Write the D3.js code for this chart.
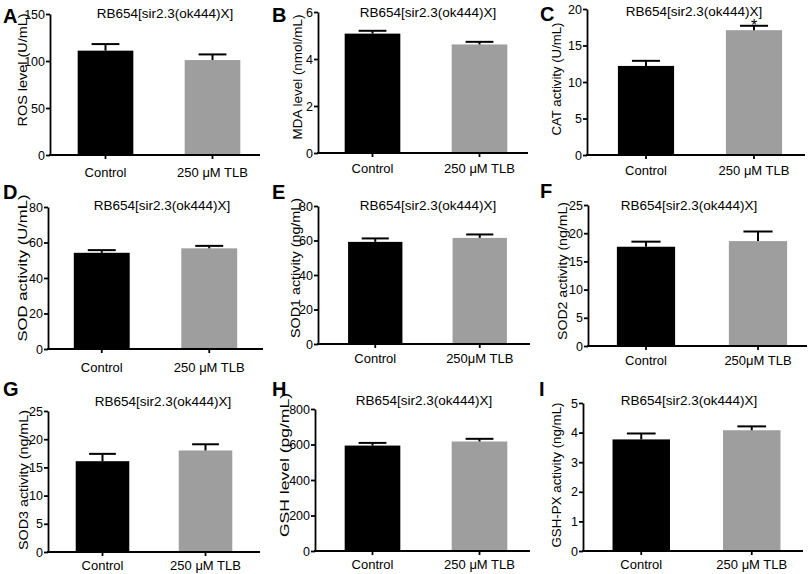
<!DOCTYPE html>
<html>
<head>
<meta charset="utf-8">
<script src="https://cdn.jsdelivr.net/npm/d3@7"></script>
<style>
  body { margin: 0; background: #fff; }
  svg { display: block; font-family: "Liberation Sans", Arial, sans-serif; }
</style>
</head>
<body>
<div id="chart"></div>
<script>
//DATA
const panelLetters = ["A", "B", "C", "D", "E", "F", "G", "H", "I"];
const title = "RB654[sir2.3(ok444)X]";
const xLabels = [
  ["Control", "250 μM TLB"], ["Control", "250 μM TLB"], ["Control", "250 μM TLB"],
  ["Control", "250 μM TLB"], ["Control", "250μM TLB"], ["Control", "250μM TLB"],
  ["Control", "250 μM TLB"], ["Control", "250 μM TLB"], ["Control", "250 μM TLB"]
];
const yTitles = [
  "ROS level (U/mL)", "MDA level (nmol/mL)", "CAT activity (U/mL)",
  "SOD activity (U/mL)", "SOD1 activity (ng/mL)", "SOD2 activity (ng/mL)",
  "SOD3 activity (ng/mL)", "GSH level (pg/mL)", "GSH-PX activity (ng/mL)"
];
const yMax = [150, 6, 20, 80, 80, 25, 25, 800, 5];
const yTickStep = [50, 2, 5, 20, 20, 5, 5, 200, 1];
const controlMean = [111, 5.08, 12.2, 54.2, 59.2, 17.6, 16.1, 594, 3.77];
const controlErr = [7, 0.12, 0.7, 1.5, 2, 0.9, 1.3, 15, 0.2];
const tlbMean = [101, 4.62, 17.1, 56.7, 61.5, 18.6, 18.0, 617, 4.08];
const tlbErr = [6, 0.11, 0.6, 1.4, 2, 1.7, 1.1, 15, 0.13];
const significant = [[false, false], [false, false], [false, true],
  [false, false], [false, false], [false, false],
  [false, false], [false, false], [false, false]];

//LAYOUT (pixel positions of each panel)
// yl = y title baseline x, yc = y title centre, yw = y title length, xd = x label offset below axis
const layout = [
  {x0: 50, x1: 260, yTop: 14, yZero: 155, r0: 52, r1: 266, tx: 165, ty: 18, lx: 3, ly: 23, yl: 27, yc: 70, yw: 113, xd: 21.5},
  {x0: 318, x1: 528, yTop: 12, yZero: 153, r0: 319, r1: 533, tx: 428, ty: 17, lx: 272, ly: 22, yl: 302, yc: 77, yw: 125, xd: 20},
  {x0: 587, x1: 805, yTop: 9, yZero: 155, r0: 592, r1: 808, tx: 694, ty: 16, lx: 540, ly: 21, yl: 561, yc: 79, yw: 113, xd: 20},
  {x0: 48, x1: 263, yTop: 207, yZero: 349, r0: 48, r1: 263, tx: 162, ty: 210, lx: 3, ly: 199, yl: 27, yc: 268, yw: 147, xd: 22.5},
  {x0: 318, x1: 530, yTop: 206, yZero: 344, r0: 323, r1: 532, tx: 428, ty: 210, lx: 272, ly: 199, yl: 300, yc: 268, yw: 140, xd: 19},
  {x0: 588, x1: 807, yTop: 205, yZero: 346, r0: 590, r1: 814, tx: 689, ty: 210, lx: 540, ly: 198, yl: 567, yc: 271, yw: 138, xd: 19},
  {x0: 48, x1: 260, yTop: 411, yZero: 552, r0: 51, r1: 257, tx: 163, ty: 406, lx: 3, ly: 396, yl: 28, yc: 480, yw: 140, xd: 17.5},
  {x0: 315, x1: 530, yTop: 409, yZero: 551, r0: 319, r1: 533, tx: 424, ty: 405, lx: 272, ly: 396, yl: 289, yc: 465, yw: 144, xd: 17.5},
  {x0: 583, x1: 803, yTop: 403, yZero: 551, r0: 586, r1: 807, tx: 689, ty: 405, lx: 539, ly: 396, yl: 561, yc: 475, yw: 145, xd: 18}
];

const W = 809, H = 574;
const barColors = ["#000000", "#9e9e9e"];

//SVG
const svg = d3.select("#chart")
  .append("svg")
  .attr("width", W)
  .attr("height", H);

panelLetters.forEach((letter, i) => {
  const L = layout[i];
  const g = svg.append("g");

  const rows = [
    {cat: xLabels[i][0], mean: controlMean[i], err: controlErr[i], sig: significant[i][0]},
    {cat: xLabels[i][1], mean: tlbMean[i], err: tlbErr[i], sig: significant[i][1]}
  ];

  //SCALES
  const x = d3.scaleBand()
    .domain(rows.map(d => d.cat))
    .range([L.r0, L.r1])
    .paddingInner(0.48)
    .paddingOuter(0.24);

  const y = d3.scaleLinear()
    .domain([0, yMax[i]])
    .range([L.yZero, L.yTop]);

  const cx = d => x(d.cat) + x.bandwidth() / 2;

  //BARS
  g.selectAll("rect.bar")
    .data(rows)
    .join("rect")
    .attr("class", "bar")
    .attr("x", d => x(d.cat))
    .attr("width", x.bandwidth())
    .attr("y", d => y(d.mean))
    .attr("height", d => y(0) - y(d.mean))
    .attr("fill", (d, j) => barColors[j]);

  //ERROR BARS (upper only)
  const cap = x.bandwidth() * 0.5;
  g.selectAll("line.err")
    .data(rows)
    .join("line")
    .attr("class", "err")
    .attr("x1", cx)
    .attr("x2", cx)
    .attr("y1", d => y(d.mean))
    .attr("y2", d => y(d.mean + d.err))
    .attr("stroke", "#000")
    .attr("stroke-width", 2);

  g.selectAll("line.cap")
    .data(rows)
    .join("line")
    .attr("class", "cap")
    .attr("x1", d => cx(d) - cap / 2)
    .attr("x2", d => cx(d) + cap / 2)
    .attr("y1", d => y(d.mean + d.err))
    .attr("y2", d => y(d.mean + d.err))
    .attr("stroke", "#000")
    .attr("stroke-width", 2);

  //SIGNIFICANCE
  g.selectAll("text.sig")
    .data(rows.filter(d => d.sig))
    .join("text")
    .attr("class", "sig")
    .attr("x", cx)
    .attr("y", d => y(d.mean + d.err) + 5)
    .attr("text-anchor", "middle")
    .attr("font-size", "16px")
    .text("*");

  //Y AXIS
  const ticks = d3.range(0, yMax[i] + yTickStep[i] / 2, yTickStep[i]);
  const yAxis = g.append("g")
    .attr("transform", `translate(${L.x0},0)`)
    .call(d3.axisLeft(y).tickValues(ticks).tickFormat(d3.format("~g"))
      .tickSize(4).tickPadding(1).tickSizeOuter(0));
  yAxis.selectAll("path, line").attr("stroke", "#000").attr("stroke-width", 1.8);
  yAxis.selectAll("text").attr("font-size", "12.5px").attr("fill", "#000")
    .attr("font-family", "Liberation Sans, Arial, sans-serif");

  //X AXIS
  g.append("line")
    .attr("x1", L.x0 - 1)
    .attr("x2", L.x1)
    .attr("y1", L.yZero)
    .attr("y2", L.yZero)
    .attr("stroke", "#000")
    .attr("stroke-width", 1.8);

  g.selectAll("line.xtick")
    .data(rows)
    .join("line")
    .attr("class", "xtick")
    .attr("x1", cx)
    .attr("x2", cx)
    .attr("y1", L.yZero)
    .attr("y2", L.yZero + 4)
    .attr("stroke", "#000")
    .attr("stroke-width", 1.8);

  g.selectAll("text.xlab")
    .data(rows)
    .join("text")
    .attr("class", "xlab")
    .attr("x", cx)
    .attr("y", L.yZero + L.xd)
    .attr("text-anchor", "middle")
    .attr("font-size", "13px")
    .text(d => d.cat);

  //Y TITLE (stretched along its length like the source figure)
  g.append("text")
    .attr("transform", `translate(${L.yl},${L.yc}) rotate(-90)`)
    .attr("text-anchor", "middle")
    .attr("font-size", "13.5px")
    .attr("textLength", L.yw)
    .attr("lengthAdjust", "spacingAndGlyphs")
    .text(yTitles[i]);

  //TITLE
  g.append("text")
    .attr("x", L.tx)
    .attr("y", L.ty)
    .attr("text-anchor", "middle")
    .attr("font-size", "13.5px")
    .text(title);

  //PANEL LETTER
  g.append("text")
    .attr("x", L.lx)
    .attr("y", L.ly)
    .attr("font-size", "20px")
    .attr("font-weight", "bold")
    .text(letter);
});
</script>
</body>
</html>
